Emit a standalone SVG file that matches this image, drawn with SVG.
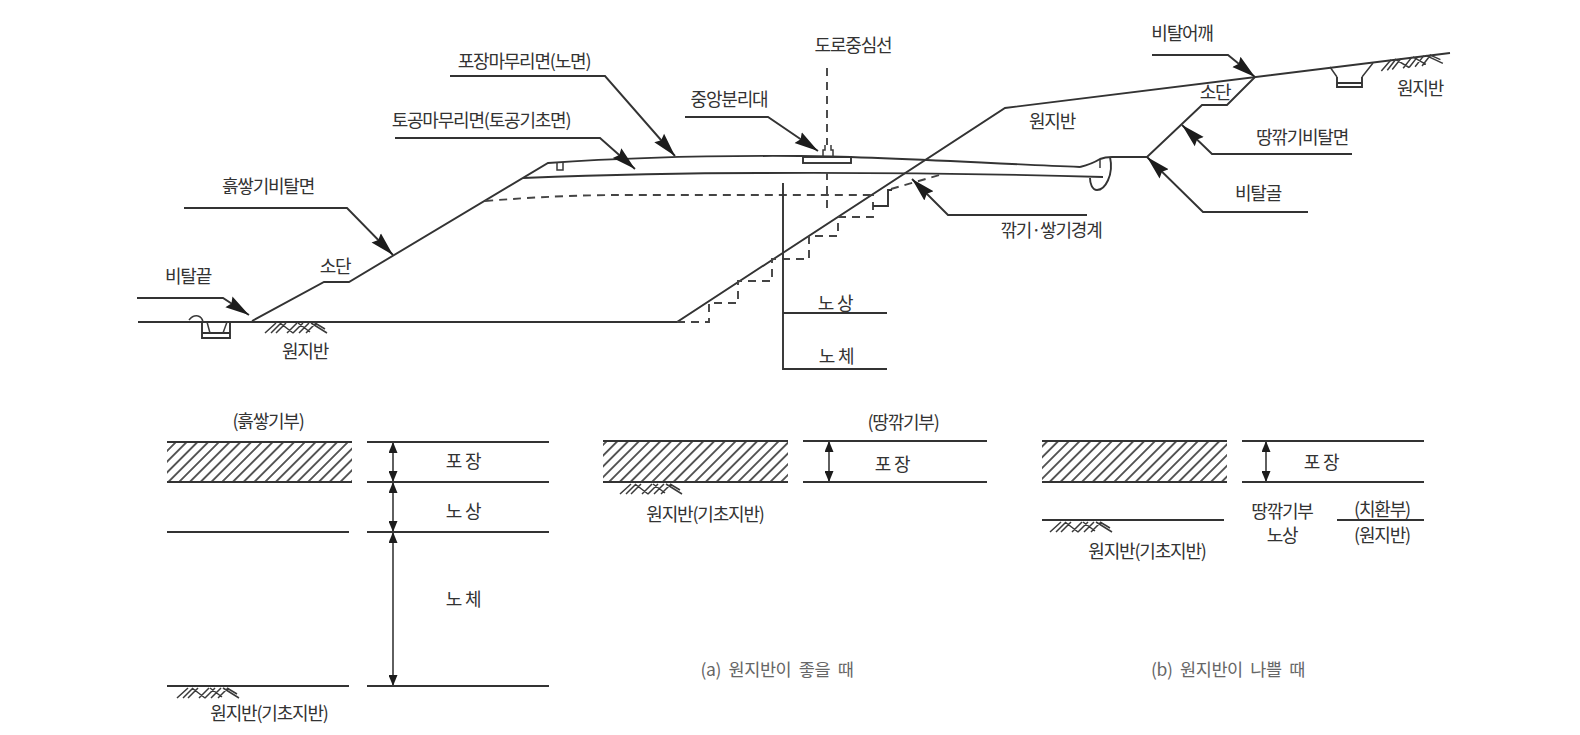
<svg xmlns="http://www.w3.org/2000/svg" xmlns:xlink="http://www.w3.org/1999/xlink" width="1580" height="735" viewBox="0 0 1580 735">
<style>
text{font-family:"Noto Sans CJK KR","Noto Sans",sans-serif;font-size:18px;fill:#333;text-anchor:middle;letter-spacing:-1.2px;word-spacing:1px}
.l{fill:none;stroke:#333;stroke-width:1.9}
.t{fill:none;stroke:#3a3a3a;stroke-width:1.5}
.d{fill:none;stroke:#444;stroke-width:1.9;stroke-dasharray:8 6}
.a{fill:none;stroke:#333;stroke-width:1.9;marker-end:url(#big)}
.m{fill:none;stroke:#444;stroke-width:1.7;marker-start:url(#smallS);marker-end:url(#small)}
.cap{fill:#666;font-size:17.5px;letter-spacing:-.4px;word-spacing:4px}
</style>
<defs>
<marker id="big" markerUnits="userSpaceOnUse" markerWidth="25" markerHeight="16" refX="24" refY="8" orient="auto"><path d="M0,1.5L24,8L0,14.5L3,8z" fill="#1c1c1c"/></marker>
<marker id="small" markerUnits="userSpaceOnUse" markerWidth="12" markerHeight="9" refX="11" refY="4.5" orient="auto"><path d="M0,0L11,4.5L0,9z" fill="#1c1c1c"/></marker>
<marker id="smallS" markerUnits="userSpaceOnUse" markerWidth="12" markerHeight="9" refX="0" refY="4.5" orient="auto"><path d="M11,0L0,4.5L11,9z" fill="#1c1c1c"/></marker>
<pattern id="hatch" patternUnits="userSpaceOnUse" width="7.6" height="7.6" patternTransform="rotate(45)"><line x1="3.8" y1="0" x2="3.8" y2="7.6" stroke="#333" stroke-width="1.6"/></pattern>
<path id="soil" d="M0,11L11,1M6,11L16,1M11,11L21,1M15,1L28,11M22,11L32,1M28,11L38,1M34,11L44,1M33,1L45,10M41,11L51,1M46,1L62,11M50,1L60,7" fill="none" stroke="#3a3a3a" stroke-width="1.5"/>
</defs>
<g id="terrain">
<path class="l" d="M138,322H677L1005,108L1450,53"/>
<path class="l" d="M252,321L324,282H349L548,163C620,158 720,155.5 800,156C880,156.5 980,163 1080,167"/>
<path class="l" d="M523,178C600,175 680,173 760,173C860,172.5 1000,174 1103,177"/>
<path class="l" d="M1080,167Q1092,164 1100,159Q1105,157 1112,157H1147L1202,105H1227L1255,77"/>
<path class="l" d="M1110,157C1114,175 1105,190 1097,190C1092,190 1090,183 1090,178"/>
<path class="t" d="M1100,160V168"/>
</g>
<g id="fill-boundary">
<path class="d" d="M485,201Q560,195 620,195H873"/>
<path class="d" d="M677,322H709V303H738V281H772V259H809V236H838V217H873V195"/>
<path class="d" d="M891,189L943,174"/>
<path class="l" d="M873,206H888V190H892"/>
</g>
<g id="center-line"><path class="d" d="M827,68V145M827,172V208"/></g>
<g id="median">
<rect class="l" x="803" y="157" width="48" height="6" fill="#fff"/>
<path class="t" d="M823,157V150H825V145M833,157V150H831V145"/>
</g>
<g id="shoulder-box"><path class="t" d="M557,162V170H563V162"/></g>
<g id="left-ditch">
<path class="l" d="M202,322V338H230V322M202,333H230"/>
<path class="t" d="M207,322L210,333M227,322L223,333M189,320Q193,315 198,316Q202,317 203,322"/>
<use xlink:href="#soil" href="#soil" x="265" y="322"/>
</g>
<g id="right-ditch">
<path class="l" d="M1337,77V87H1362V77M1337,83H1362"/>
<path class="t" d="M1330,67L1337,77M1373,63L1362,77"/>
<use xlink:href="#soil" href="#soil" transform="translate(1380,60) rotate(-7)"/>
</g>
<g id="roadbed-scale">
<path class="l" d="M783,183V369H887M783,313H887"/>
<text x="835" y="310">노 상</text>
<text x="836" y="363">노 체</text>
</g>
<g id="connectors">
<path class="a" d="M137,298H223L249,315"/>
<path class="a" d="M184,208H347L393,255"/>
<path class="a" d="M395,138H600L635,169"/>
<path class="a" d="M450,76H605L675,156"/>
<path class="a" d="M685,117H768L818,151"/>
<path class="a" d="M1087,215H948L912,179"/>
<path class="a" d="M1152,55H1228L1255,77"/>
<path class="a" d="M1352,154H1212L1182,125"/>
<path class="a" d="M1308,212H1203L1147,157"/>
</g>
<g id="main-labels">
<text x="188" y="283">비탈끝</text>
<text x="268" y="193">흙쌓기비탈면</text>
<text x="335" y="273">소단</text>
<text x="305" y="358">원지반</text>
<text x="481" y="127">토공마무리면(토공기초면)</text>
<text x="524" y="68">포장마무리면(노면)</text>
<text x="729" y="106">중앙분리대</text>
<text x="853" y="52">도로중심선</text>
<text x="1052" y="128">원지반</text>
<text x="1051" y="237">깎기·쌓기경계</text>
<text x="1182" y="40">비탈어깨</text>
<text x="1215" y="99">소단</text>
<text x="1302" y="144">땅깎기비탈면</text>
<text x="1258" y="200">비탈골</text>
<text x="1420" y="95">원지반</text>
</g>
<g id="section-fill">
<text x="268" y="428">(흙쌓기부)</text>
<rect x="167" y="442" width="185" height="40" fill="url(#hatch)"/>
<path class="l" d="M167,442H352M167,482H352M367,442H549M367,482H549M367,532H549M367,686H549M167,532H349M167,686H349"/>
<path class="m" d="M393,442V482"/>
<path class="m" d="M393,482V532"/>
<path class="m" d="M393,532V686"/>
<use xlink:href="#soil" href="#soil" x="177" y="687"/>
<text x="463" y="468">포 장</text>
<text x="463" y="518">노 상</text>
<text x="463" y="606">노 체</text>
<text x="269" y="720">원지반(기초지반)</text>
</g>
<g id="section-a">
<text x="903" y="429">(땅깎기부)</text>
<rect x="603" y="441" width="185" height="41" fill="url(#hatch)"/>
<path class="l" d="M603,441H788M603,482H788M803,441H987M803,482H987"/>
<path class="m" d="M829,441V482"/>
<use xlink:href="#soil" href="#soil" x="620" y="483"/>
<text x="892" y="471">포 장</text>
<text x="705" y="521">원지반(기초지반)</text>
<text class="cap" x="777" y="676">(a) 원지반이 좋을 때</text>
</g>
<g id="section-b">
<rect x="1042" y="441" width="185" height="41" fill="url(#hatch)"/>
<path class="l" d="M1042,441H1227M1042,482H1227M1242,441H1424M1242,482H1424M1042,520H1224M1337,520H1424"/>
<path class="m" d="M1266,441V482"/>
<use xlink:href="#soil" href="#soil" x="1050" y="521"/>
<text x="1321" y="469">포 장</text>
<text x="1147" y="558">원지반(기초지반)</text>
<text x="1282" y="518">땅깎기부</text>
<text x="1282" y="542">노상</text>
<text x="1382" y="516">(치환부)</text>
<text x="1382" y="542">(원지반)</text>
<text class="cap" x="1228" y="676">(b) 원지반이 나쁠 때</text>
</g>
</svg>
